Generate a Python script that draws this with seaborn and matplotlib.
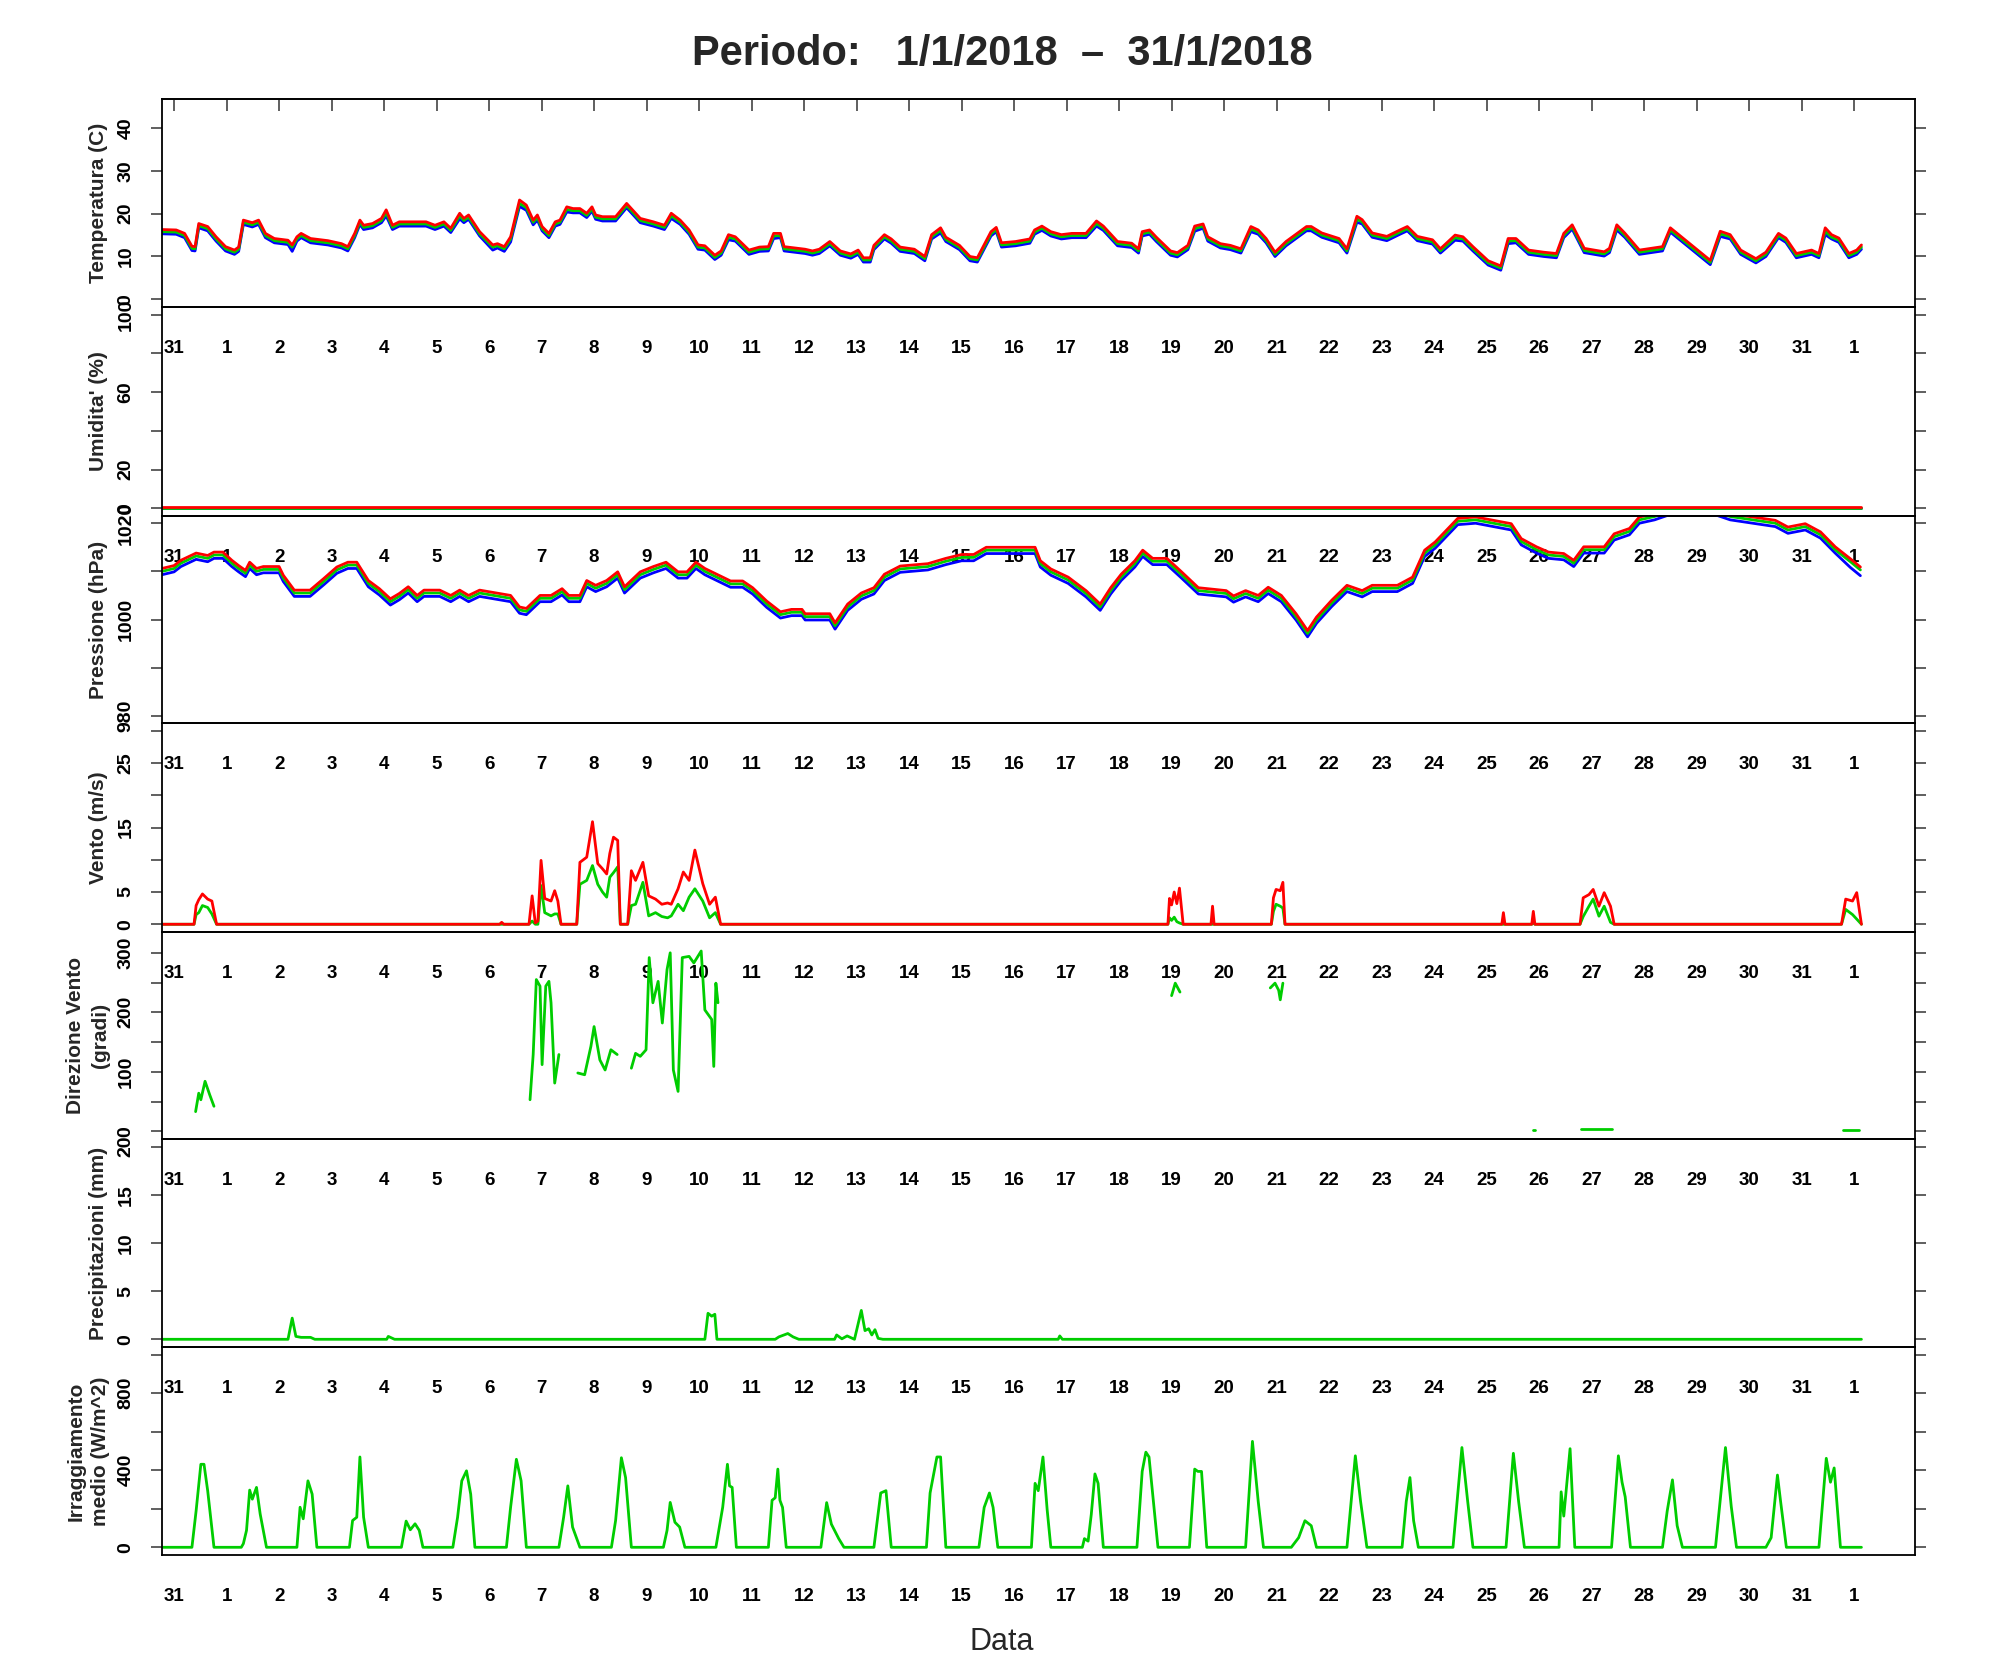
import numpy as np
import pandas as pd
import matplotlib
matplotlib.use("Agg")
import matplotlib.pyplot as plt
import seaborn as sns

sns.set_theme(style="white")
plt.rcParams['font.family'] = ['Liberation Sans', 'DejaVu Sans']

NAN = float('nan')

# x axis: day index, 0 = first "31" tick (Dec 31) ... 32 = "1" (Feb 1)
day_ticks = list(range(33))
day_labels = ['31'] + [str(d) for d in range(1, 32)] + ['1']

# ---- temperature (C): max (red), mean (green), min (blue)
temp_t = [-0.23, 0.04, 0.2, 0.34, 0.4, 0.47, 0.64, 0.8, 0.98, 1.15,
          1.23, 1.32, 1.49, 1.61, 1.74, 1.91, 2.17, 2.25, 2.34, 2.42,
          2.6, 2.93, 3.19, 3.31, 3.44, 3.54, 3.61, 3.78, 3.95, 4.04,
          4.16, 4.29, 4.63, 4.8, 4.97, 5.14, 5.27, 5.44, 5.52, 5.61,
          5.82, 6.07, 6.16, 6.29, 6.41, 6.58, 6.71, 6.84, 6.92, 7.01,
          7.14, 7.26, 7.35, 7.48, 7.6, 7.73, 7.86, 7.96, 8.03, 8.16,
          8.41, 8.62, 8.88, 9.13, 9.34, 9.47, 9.64, 9.81, 9.98, 10.11,
          10.3, 10.42, 10.56, 10.69, 10.95, 11.15, 11.32, 11.42, 11.55, 11.62,
          12.02, 12.16, 12.29, 12.49, 12.69, 12.89, 13.03, 13.13, 13.26, 13.33,
          13.53, 13.66, 13.83, 14.1, 14.3, 14.43, 14.6, 14.7, 14.96, 15.16,
          15.3, 15.56, 15.66, 15.76, 16.03, 16.3, 16.39, 16.53, 16.7, 16.9,
          17.1, 17.37, 17.57, 17.7, 17.97, 18.24, 18.37, 18.44, 18.58, 18.71,
          18.98, 19.11, 19.31, 19.44, 19.6, 19.69, 19.93, 20.12, 20.32, 20.51,
          20.65, 20.8, 20.97, 21.18, 21.57, 21.66, 21.86, 22.19, 22.34, 22.53,
          22.63, 22.82, 23.1, 23.35, 23.49, 23.68, 23.97, 24.12, 24.4, 24.55,
          24.74, 25.03, 25.27, 25.41, 25.56, 25.8, 26.09, 26.33, 26.47, 26.63,
          26.86, 27.24, 27.34, 27.48, 27.63, 27.91, 28.35, 28.5, 28.78, 29.02,
          29.26, 29.45, 29.64, 29.84, 30.13, 30.32, 30.56, 30.7, 30.9, 31.19,
          31.33, 31.45, 31.57, 31.71, 31.9, 32.05, 32.14]
temp_max = [16.3, 16.2, 15.4, 12.4, 12.3, 17.7, 17.0, 14.6, 12.3, 11.5,
            12.2, 18.5, 17.9, 18.5, 15.4, 14.2, 13.8, 12.7, 14.6, 15.4,
            14.2, 13.7, 13.0, 12.3, 15.4, 18.5, 17.3, 17.7, 18.9, 20.9,
            17.3, 18.1, 18.1, 18.1, 17.3, 18.1, 16.6, 20.1, 18.9, 19.7,
            15.8, 12.7, 13.0, 12.3, 14.6, 23.2, 22.0, 18.5, 19.7, 17.0,
            15.4, 18.1, 18.5, 21.6, 21.2, 21.2, 20.1, 21.6, 19.7, 19.3,
            19.3, 22.4, 18.9, 18.1, 17.3, 20.1, 18.5, 16.2, 12.7, 12.5,
            10.3, 11.3, 15.1, 14.6, 11.5, 12.2, 12.3, 15.4, 15.4, 12.3,
            11.7, 11.3, 11.7, 13.5, 11.3, 10.6, 11.5, 9.7, 9.7, 12.6,
            15.1, 14.1, 12.2, 11.7, 10.0, 15.1, 16.7, 14.5, 12.6, 10.0,
            9.7, 15.8, 16.8, 13.2, 13.5, 14.1, 16.2, 17.1, 15.8, 15.1,
            15.4, 15.4, 18.3, 17.1, 13.5, 13.1, 11.8, 15.8, 16.2, 14.5,
            11.3, 10.9, 12.6, 17.1, 17.6, 14.6, 13.0, 12.6, 11.8, 17.0,
            16.2, 14.2, 11.0, 13.5, 17.0, 17.0, 15.5, 14.2, 11.8, 19.4,
            18.6, 15.5, 14.7, 16.2, 17.0, 14.7, 13.9, 11.8, 15.0, 14.6,
            12.3, 9.0, 7.8, 14.2, 14.2, 11.5, 11.0, 10.7, 15.4, 17.4,
            11.9, 11.1, 11.9, 17.4, 15.5, 11.5, 12.3, 16.7, 13.9, 11.5,
            9.1, 15.9, 15.1, 11.5, 9.5, 11.0, 15.4, 14.3, 10.7, 11.5,
            10.7, 16.7, 15.1, 14.3, 10.7, 11.5, 12.7]
temp_med = [15.8, 15.7, 14.9, 11.9, 11.8, 17.2, 16.5, 14.1, 11.8, 11.0,
            11.7, 18.0, 17.4, 18.0, 14.9, 13.7, 13.3, 12.2, 14.1, 14.9,
            13.7, 13.2, 12.5, 11.8, 14.9, 18.0, 16.8, 17.2, 18.4, 20.2,
            16.8, 17.6, 17.6, 17.6, 16.8, 17.6, 16.1, 19.5, 18.4, 19.2,
            15.3, 12.2, 12.5, 11.8, 14.1, 22.4, 21.4, 18.0, 19.1, 16.5,
            14.9, 17.6, 18.0, 21.0, 20.7, 20.7, 19.6, 21.1, 19.2, 18.8,
            18.8, 21.9, 18.4, 17.6, 16.8, 19.5, 18.0, 15.7, 12.2, 12.0,
            9.8, 10.8, 14.5, 14.1, 11.0, 11.7, 11.8, 14.8, 14.9, 11.8,
            11.2, 10.8, 11.2, 13.0, 10.8, 10.1, 11.0, 9.2, 9.2, 12.1,
            14.6, 13.6, 11.7, 11.2, 9.5, 14.6, 16.1, 14.0, 12.1, 9.5,
            9.2, 15.3, 16.3, 12.7, 13.0, 13.6, 15.7, 16.6, 15.3, 14.6,
            14.9, 14.9, 17.7, 16.6, 13.0, 12.6, 11.3, 15.3, 15.7, 14.0,
            10.8, 10.4, 12.1, 16.5, 17.1, 14.1, 12.5, 12.1, 11.3, 16.4,
            15.7, 13.7, 10.5, 13.0, 16.5, 16.5, 15.0, 13.7, 11.3, 18.7,
            18.1, 15.0, 14.2, 15.7, 16.5, 14.2, 13.4, 11.3, 14.4, 14.1,
            11.8, 8.5, 7.3, 13.6, 13.7, 11.0, 10.5, 10.2, 14.9, 16.9,
            11.4, 10.6, 11.4, 16.8, 15.0, 11.0, 11.8, 16.2, 13.4, 11.0,
            8.6, 15.3, 14.6, 11.0, 9.0, 10.5, 14.9, 13.8, 10.2, 11.0,
            10.2, 15.9, 14.5, 13.8, 10.2, 11.0, 12.2]
temp_min = [15.3, 15.2, 14.4, 11.4, 11.3, 16.7, 16.0, 13.6, 11.3, 10.5,
            11.2, 17.5, 16.9, 17.5, 14.4, 13.2, 12.8, 11.2, 13.6, 14.4,
            13.2, 12.7, 12.0, 11.3, 14.4, 17.5, 16.3, 16.7, 17.9, 19.5,
            16.3, 17.1, 17.1, 17.1, 16.3, 17.1, 15.6, 18.8, 17.9, 18.7,
            14.8, 11.5, 12.0, 11.2, 13.4, 21.7, 20.8, 17.4, 18.5, 16.0,
            14.4, 17.1, 17.5, 20.4, 20.2, 20.2, 19.1, 20.6, 18.7, 18.3,
            18.3, 21.4, 17.9, 17.1, 16.3, 18.9, 17.5, 15.2, 11.7, 11.5,
            9.3, 10.3, 13.9, 13.6, 10.5, 11.2, 11.3, 14.2, 14.4, 11.3,
            10.7, 10.3, 10.7, 12.5, 10.3, 9.6, 10.5, 8.7, 8.7, 11.6,
            14.1, 13.1, 11.2, 10.7, 9.0, 14.1, 15.5, 13.5, 11.6, 9.0,
            8.7, 14.8, 15.8, 12.2, 12.5, 13.1, 15.2, 16.1, 14.8, 14.1,
            14.4, 14.4, 17.1, 16.1, 12.5, 12.1, 10.8, 14.8, 15.2, 13.5,
            10.3, 9.9, 11.6, 15.9, 16.6, 13.6, 12.0, 11.6, 10.8, 15.8,
            15.2, 13.2, 10.0, 12.5, 16.0, 16.0, 14.5, 13.2, 10.8, 18.0,
            17.6, 14.5, 13.7, 15.2, 16.0, 13.7, 12.9, 10.8, 13.8, 13.6,
            11.3, 8.0, 6.8, 13.0, 13.2, 10.5, 10.0, 9.7, 14.4, 16.4,
            10.9, 10.1, 10.9, 16.2, 14.5, 10.5, 11.3, 15.7, 12.9, 10.5,
            8.1, 14.7, 14.1, 10.5, 8.5, 10.0, 14.4, 13.3, 9.7, 10.5,
            9.7, 15.1, 14.1, 13.3, 9.7, 10.5, 11.7]

# ---- humidity (%): sensor reads zero for the whole period
hum_t = [-0.23, 32.14]
hum_max = [0.6, 0.6]
hum_med = [0.3, 0.3]
hum_min = [0.0, 0.0]

# ---- pressure (hPa)
press_t = [-0.23, 0.0, 0.13, 0.42, 0.64, 0.76, 0.93, 1.1, 1.23, 1.36,
           1.44, 1.57, 1.7, 2.0, 2.08, 2.29, 2.59, 2.85, 3.1, 3.31,
           3.48, 3.7, 3.91, 4.12, 4.29, 4.46, 4.63, 4.76, 5.06, 5.27,
           5.44, 5.61, 5.82, 6.41, 6.58, 6.71, 6.97, 7.18, 7.39, 7.52,
           7.73, 7.86, 8.03, 8.24, 8.45, 8.58, 8.88, 9.13, 9.37, 9.6,
           9.77, 9.94, 10.11, 10.41, 10.6, 10.83, 11.02, 11.29, 11.55, 11.76,
           11.96, 12.02, 12.49, 12.59, 12.83, 13.09, 13.33, 13.53, 13.83, 14.36,
           14.7, 15.0, 15.23, 15.47, 15.83, 16.1, 16.4, 16.5, 16.7, 17.03,
           17.37, 17.64, 17.84, 18.04, 18.3, 18.45, 18.64, 18.91, 19.18, 19.51,
           20.04, 20.18, 20.41, 20.65, 20.84, 21.09, 21.37, 21.59, 21.76, 22.05,
           22.34, 22.63, 22.82, 23.3, 23.59, 23.82, 24.02, 24.45, 24.79, 25.13,
           25.47, 25.66, 25.95, 26.18, 26.47, 26.66, 26.85, 27.24, 27.43, 27.72,
           27.91, 28.2, 28.6, 29.1, 29.64, 30.07, 30.5, 30.74, 31.07, 31.36,
           31.64, 31.93, 32.12]
press_max = [1010.6, 1011.2, 1012.3, 1013.8, 1013.3, 1014.0, 1014.0, 1012.3, 1011.2, 1010.2,
             1011.9, 1010.6, 1011.0, 1011.0, 1009.2, 1006.1, 1006.1, 1008.5, 1010.9, 1011.9,
             1011.9, 1008.1, 1006.4, 1004.3, 1005.4, 1006.8, 1005.0, 1006.1, 1006.1, 1005.0,
             1006.1, 1005.0, 1006.1, 1005.0, 1002.6, 1002.3, 1005.0, 1005.0, 1006.4, 1005.0,
             1005.0, 1008.1, 1007.1, 1008.1, 1009.9, 1006.8, 1009.9, 1011.0, 1011.9, 1009.9,
             1009.9, 1011.9, 1010.6, 1009.0, 1008.0, 1008.0, 1006.6, 1003.8, 1001.6, 1002.1,
             1002.1, 1001.2, 1001.2, 999.3, 1003.2, 1005.5, 1006.6, 1009.4, 1011.1, 1011.6,
             1012.7, 1013.5, 1013.5, 1015.0, 1015.0, 1015.0, 1015.0, 1012.2, 1010.5, 1008.8,
             1006.0, 1003.2, 1006.6, 1009.4, 1012.2, 1014.4, 1012.7, 1012.7, 1010.0, 1006.6,
             1006.0, 1004.9, 1006.0, 1005.0, 1006.7, 1005.0, 1001.2, 997.7, 1000.5, 1004.0,
             1007.1, 1006.0, 1007.1, 1007.1, 1008.8, 1014.4, 1016.1, 1021.0, 1021.3, 1020.6,
             1019.9, 1016.8, 1015.1, 1014.0, 1013.7, 1012.3, 1015.1, 1015.1, 1017.8, 1018.9,
             1021.3, 1022.0, 1023.5, 1024.0, 1022.0, 1021.3, 1020.6, 1019.2, 1019.9, 1018.2,
             1015.1, 1012.6, 1010.9]
press_med = [1010.0, 1010.6, 1011.7, 1013.2, 1012.7, 1013.4, 1013.4, 1011.7, 1010.6, 1009.6,
             1011.3, 1010.0, 1010.4, 1010.4, 1008.6, 1005.5, 1005.5, 1007.9, 1010.3, 1011.3,
             1011.3, 1007.5, 1005.8, 1003.7, 1004.8, 1006.2, 1004.4, 1005.5, 1005.5, 1004.4,
             1005.5, 1004.4, 1005.5, 1004.4, 1002.0, 1001.7, 1004.4, 1004.4, 1005.8, 1004.4,
             1004.4, 1007.5, 1006.5, 1007.5, 1009.3, 1006.2, 1009.3, 1010.4, 1011.3, 1009.3,
             1009.3, 1011.3, 1010.0, 1008.4, 1007.4, 1007.4, 1006.0, 1003.2, 1001.0, 1001.5,
             1001.5, 1000.6, 1000.6, 998.7, 1002.6, 1004.9, 1006.0, 1008.8, 1010.5, 1011.0,
             1012.1, 1012.9, 1012.9, 1014.4, 1014.4, 1014.4, 1014.4, 1011.6, 1009.9, 1008.2,
             1005.4, 1002.6, 1006.0, 1008.8, 1011.6, 1013.8, 1012.1, 1012.1, 1009.4, 1006.0,
             1005.4, 1004.3, 1005.4, 1004.4, 1006.1, 1004.4, 1000.6, 997.1, 999.9, 1003.4,
             1006.5, 1005.4, 1006.5, 1006.5, 1008.2, 1013.8, 1015.5, 1020.4, 1020.7, 1020.0,
             1019.3, 1016.2, 1014.5, 1013.4, 1013.1, 1011.7, 1014.5, 1014.5, 1017.2, 1018.3,
             1020.7, 1021.4, 1022.9, 1023.4, 1021.4, 1020.7, 1020.0, 1018.6, 1019.3, 1017.6,
             1014.5, 1012.0, 1010.3]
press_min = [1009.3, 1009.9, 1011.0, 1012.5, 1012.0, 1012.7, 1012.7, 1011.0, 1009.9, 1008.9,
             1010.6, 1009.3, 1009.7, 1009.7, 1007.9, 1004.8, 1004.8, 1007.2, 1009.6, 1010.6,
             1010.6, 1006.8, 1005.1, 1003.0, 1004.1, 1005.5, 1003.7, 1004.8, 1004.8, 1003.7,
             1004.8, 1003.7, 1004.8, 1003.7, 1001.3, 1001.0, 1003.7, 1003.7, 1005.1, 1003.7,
             1003.7, 1006.8, 1005.8, 1006.8, 1008.6, 1005.5, 1008.6, 1009.7, 1010.6, 1008.6,
             1008.6, 1010.6, 1009.3, 1007.7, 1006.7, 1006.7, 1005.3, 1002.5, 1000.3, 1000.8,
             1000.8, 999.9, 999.9, 998.0, 1001.9, 1004.2, 1005.3, 1008.1, 1009.8, 1010.3,
             1011.4, 1012.2, 1012.2, 1013.7, 1013.7, 1013.7, 1013.7, 1010.9, 1009.2, 1007.5,
             1004.7, 1001.9, 1005.3, 1008.1, 1010.9, 1013.1, 1011.4, 1011.4, 1008.7, 1005.3,
             1004.7, 1003.6, 1004.7, 1003.7, 1005.4, 1003.7, 999.9, 996.4, 999.2, 1002.7,
             1005.8, 1004.7, 1005.8, 1005.8, 1007.5, 1013.1, 1014.8, 1019.7, 1020.0, 1019.3,
             1018.6, 1015.5, 1013.8, 1012.7, 1012.4, 1011.0, 1013.8, 1013.8, 1016.5, 1017.6,
             1020.0, 1020.7, 1022.2, 1022.7, 1020.7, 1020.0, 1019.3, 1017.9, 1018.6, 1016.9,
             1013.8, 1010.8, 1009.1]

# ---- wind speed (m/s): gust (red), mean (green)
wind_t = [-0.23, 0.38, 0.42, 0.47, 0.54, 0.64, 0.72, 0.81, 6.20, 6.24,
          6.28, 6.76, 6.82, 6.88, 6.93, 6.99, 7.06, 7.18, 7.25, 7.31,
          7.37, 7.67, 7.73, 7.86, 7.97, 8.07, 8.16, 8.24, 8.30, 8.37,
          8.45, 8.50, 8.64, 8.71, 8.79, 8.93, 9.04, 9.17, 9.29, 9.40,
          9.47, 9.60, 9.70, 9.81, 9.92, 10.07, 10.20, 10.31, 10.41, 18.93,
          18.96, 19.00, 19.05, 19.10, 19.15, 19.22, 19.75, 19.78, 19.81, 20.90,
          20.94, 20.99, 21.07, 21.12, 21.16, 25.29, 25.32, 25.35, 25.86, 25.89,
          25.92, 26.78, 26.84, 26.95, 27.03, 27.14, 27.24, 27.36, 27.43, 31.76,
          31.84, 31.97, 32.05, 32.14]
wind_max = [0, 0, 2.9, 3.8, 4.7, 3.9, 3.6, 0, 0, 0.3,
            0, 0, 4.4, 0.2, 0.5, 9.9, 4.0, 3.6, 5.2, 3.6,
            0, 0, 9.6, 10.4, 15.9, 9.4, 8.6, 7.8, 11.0, 13.5,
            13.0, 0, 0, 8.3, 6.8, 9.6, 4.4, 3.9, 3.1, 3.3,
            3.1, 5.5, 8.1, 6.8, 11.5, 6.3, 3.1, 4.2, 0, 0,
            4.0, 3.0, 5.0, 3.2, 5.6, 0, 0, 2.8, 0, 0,
            4.1, 5.4, 5.2, 6.5, 0, 0, 1.8, 0, 0, 2.0,
            0, 0, 4.1, 4.6, 5.4, 2.8, 4.9, 2.8, 0, 0,
            3.9, 3.6, 4.9, 0]
wind_mean = [0, 0, 1.5, 1.8, 2.9, 2.6, 1.6, 0, 0, 0,
             0, 0, 0.5, 0, 0, 6.0, 1.8, 1.3, 1.6, 1.6,
             0, 0, 6.2, 6.8, 9.1, 6.2, 5.0, 4.2, 7.3, 8.0,
             8.9, 0, 0, 2.9, 3.1, 6.5, 1.3, 1.8, 1.2, 1.0,
             1.3, 3.1, 2.1, 4.2, 5.5, 3.6, 1.0, 1.8, 0, 0,
             1.0, 0.6, 1.1, 0.4, 0.2, 0, 0, 0, 0, 0,
             2.0, 3.1, 2.8, 2.5, 0, 0, 0, 0, 0, 0.2,
             0, 0, 1.2, 2.8, 3.9, 1.25, 2.8, 0.3, 0, 0,
             2.3, 1.5, 0.8, 0]

# ---- wind direction (degrees), gaps where there is no wind
dir_t = [0.41, 0.47, 0.51, 0.59, 0.68, 0.76, NAN,
         6.78, 6.84, 6.90, 6.97, 7.01, 7.08, 7.14, 7.18, 7.25, 7.33, NAN,
         7.69, 7.82, 7.94, 8.00, 8.11, 8.21, 8.32, 8.44, NAN,
         8.71, 8.79, 8.88, 8.99, 9.05, 9.12, 9.22, 9.30, 9.39, 9.45, 9.51,
         9.60, 9.68, 9.81, 9.90, 10.04, 10.11, 10.24, 10.28, 10.32, 10.36, NAN,
         19.00, 19.07, 19.16, NAN,
         20.88, 20.97, 21.04, 21.07, 21.12, NAN,
         25.89, 25.92, NAN,
         26.80, 27.38, NAN,
         31.78, 32.10]
dir_v = [33, 64, 53, 84, 61, 42, NAN,
         53, 129, 255, 244, 112, 244, 252, 216, 81, 129, NAN,
         98, 95, 143, 176, 120, 103, 137, 129, NAN,
         106, 131, 126, 137, 292, 216, 252, 182, 272, 300, 103,
         67, 292, 294, 283, 303, 204, 188, 109, 249, 216, NAN,
         228, 249, 234, NAN,
         241, 249, 237, 221, 249, NAN,
         2, 2, NAN,
         3, 3, NAN,
         2, 2]

# ---- precipitation (mm)
prec_t = [-0.23, 2.17, 2.25, 2.32, 2.42, 2.60, 2.68, 4.05, 4.08, 4.20,
          10.11, 10.17, 10.24, 10.30, 10.34, 11.45, 11.52, 11.69, 11.79, 11.90,
          12.58, 12.62, 12.72, 12.82, 12.96, 13.09, 13.16, 13.23, 13.29, 13.35,
          13.41, 13.50, 16.84, 16.87, 16.92, 32.14]
prec_v = [0, 0, 2.2, 0.3, 0.2, 0.2, 0, 0, 0.3, 0,
          0, 2.7, 2.4, 2.6, 0, 0, 0.25, 0.6, 0.25, 0,
          0, 0.45, 0.05, 0.35, 0, 3.0, 0.9, 1.1, 0.45, 1.0,
          0.1, 0, 0, 0.35, 0, 0]

# ---- mean irradiance (W/m^2), one row per day
irr_t = [-0.23,
         0.34, 0.42, 0.51, 0.57, 0.64, 0.76,
         1.28, 1.32, 1.38, 1.44, 1.49, 1.57, 1.64, 1.76,
         2.34, 2.40, 2.46, 2.55, 2.63, 2.72,
         3.34, 3.40, 3.48, 3.54, 3.61, 3.70,
         4.33, 4.42, 4.50, 4.59, 4.67, 4.74,
         5.31, 5.40, 5.48, 5.57, 5.65, 5.73,
         6.33, 6.41, 6.52, 6.61, 6.71,
         7.33, 7.42, 7.50, 7.59, 7.73,
         8.33, 8.41, 8.52, 8.60, 8.71,
         9.32, 9.39, 9.45, 9.54, 9.63, 9.73,
         10.32, 10.45, 10.54, 10.58, 10.63, 10.71,
         11.32, 11.39, 11.45, 11.50, 11.54, 11.59, 11.66,
         12.32, 12.43, 12.52, 12.66, 12.76,
         13.33, 13.46, 13.56, 13.66,
         14.33, 14.40, 14.53, 14.60, 14.70,
         15.33, 15.43, 15.53, 15.60, 15.69,
         16.33, 16.40, 16.46, 16.55, 16.63, 16.70,
         17.30, 17.34, 17.41, 17.47, 17.54, 17.60, 17.70,
         18.34, 18.44, 18.51, 18.57, 18.74,
         19.34, 19.44, 19.50, 19.57, 19.67,
         20.41, 20.54, 20.65, 20.75,
         21.28, 21.42, 21.54, 21.66, 21.76,
         22.34, 22.50, 22.60, 22.72,
         23.39, 23.47, 23.54, 23.61, 23.70,
         24.36, 24.53, 24.64, 24.74,
         25.37, 25.51, 25.61, 25.72,
         26.38, 26.42, 26.47, 26.59, 26.68,
         27.38, 27.51, 27.58, 27.64, 27.74,
         28.35, 28.44, 28.54, 28.63, 28.73,
         29.36, 29.55, 29.66, 29.76,
         30.32, 30.42, 30.54, 30.60, 30.71,
         31.33, 31.47, 31.55, 31.62, 31.74, 32.14]
irr_v = [0,
         0, 190, 431, 431, 294, 0,
         0, 19, 88, 297, 250, 311, 173, 0,
         0, 208, 148, 345, 276, 0,
         0, 139, 156, 469, 156, 0,
         0, 136, 91, 122, 88, 0,
         0, 156, 345, 397, 276, 0,
         0, 208, 457, 345, 0,
         0, 156, 319, 105, 0,
         0, 139, 465, 362, 0,
         0, 88, 233, 130, 105, 0,
         0, 208, 431, 319, 311, 0,
         0, 244, 257, 406, 244, 207, 0,
         0, 232, 120, 45, 0,
         0, 282, 294, 0,
         0, 282, 469, 469, 0,
         0, 207, 282, 207, 0,
         0, 332, 294, 469, 195, 0,
         0, 45, 32, 170, 381, 332, 0,
         0, 394, 494, 469, 0,
         0, 406, 394, 394, 0,
         0, 550, 238, 0,
         0, 50, 138, 112, 0,
         0, 475, 238, 0,
         0, 238, 362, 138, 0,
         0, 518, 238, 0,
         0, 488, 238, 0,
         0, 288, 162, 512, 0,
         0, 475, 338, 262, 0,
         0, 188, 350, 112, 0,
         0, 518, 212, 0,
         0, 50, 375, 238, 0,
         0, 462, 338, 412, 0, 0]

RED, GREEN, BLUE = '#FF0000', '#00CD00', '#0000FF'
TICK_COL = '#444444'

panels = [
    dict(label='Temperatura (C)', ylim=(-1.8, 46.8),
         yticks=[0, 10, 20, 30, 40], ylabels=['0', '10', '20', '30', '40'],
         lines=[(temp_t, temp_min, BLUE), (temp_t, temp_med, GREEN), (temp_t, temp_max, RED)]),
    dict(label="Umidita' (%)", ylim=(-4, 104),
         yticks=[0, 20, 40, 60, 80, 100], ylabels=['0', '20', '', '60', '', '100'],
         lines=[(hum_t, hum_min, BLUE), (hum_t, hum_med, GREEN), (hum_t, hum_max, RED)]),
    dict(label='Pressione (hPa)', ylim=(978.5, 1021.5),
         yticks=[980, 990, 1000, 1010, 1020], ylabels=['980', '', '1000', '', '1020'],
         lines=[(press_t, press_min, BLUE), (press_t, press_med, GREEN), (press_t, press_max, RED)]),
    dict(label='Vento (m/s)', ylim=(-1.2, 31.2),
         yticks=[0, 5, 10, 15, 20, 25, 30], ylabels=['0', '5', '', '15', '', '25', ''],
         lines=[(wind_t, wind_mean, GREEN), (wind_t, wind_max, RED)]),
    dict(label='Direzione Vento\n(gradi)', ylim=(-13, 335),
         yticks=[0, 50, 100, 150, 200, 250, 300],
         ylabels=['0', '', '100', '', '200', '', '300'],
         lines=[]),
    dict(label='Precipitazioni (mm)', ylim=(-0.8, 20.8),
         yticks=[0, 5, 10, 15, 20], ylabels=['0', '5', '10', '15', '20'],
         lines=[(prec_t, prec_v, GREEN)]),
    dict(label='Irraggiamento\nmedio (W/m^2)', ylim=(-40, 1040),
         yticks=[0, 200, 400, 600, 800, 1000], ylabels=['0', '', '400', '', '800', ''],
         lines=[(irr_t, irr_v, GREEN)]),
]

# layout in pixels of the 1991x1680 canvas
FIG_W, FIG_H = 1991, 1680
LEFT, RIGHT = 162, 1915
EDGES = [99, 307, 516, 723, 932, 1139, 1347, 1555]
XLIM = (-0.23, 33.16)
PT = 0.72  # points per pixel at dpi 100

fig = plt.figure(figsize=(FIG_W / 100, FIG_H / 100), dpi=100)
fig.patch.set_facecolor('white')

for i, p in enumerate(panels):
    top, bot = EDGES[i], EDGES[i + 1]
    ax = fig.add_axes([LEFT / FIG_W, 1 - bot / FIG_H,
                       (RIGHT - LEFT) / FIG_W, (bot - top) / FIG_H])
    ax.set_facecolor('none')

    for t, v, col in p['lines']:
        assert len(t) == len(v)
        sns.lineplot(x=t, y=v, ax=ax, color=col, linewidth=2,
                     estimator=None, sort=False, legend=False)

    if i == 4:
        df = pd.DataFrame({'t': dir_t, 'v': dir_v})
        df['seg'] = df['v'].isna().cumsum()
        df = df.dropna()
        sns.lineplot(data=df, x='t', y='v', units='seg', estimator=None,
                     sort=False, color=GREEN, linewidth=2, ax=ax, legend=False)

    ax.set_xlim(*XLIM)
    ax.set_ylim(*p['ylim'])
    ax.set_xlabel('')
    ax.set_ylabel('')
    ax.grid(False)

    ax.set_xticks(day_ticks)
    ax.set_xticklabels(day_labels, fontweight='bold', fontsize=13.5)
    last = i == len(panels) - 1
    ax.tick_params(axis='x', direction='out' if last else 'inout',
                   length=(12 if last else 24) * PT, width=1.2, color=TICK_COL,
                   pad=15, labelcolor='black')

    ax.set_yticks(p['yticks'])
    ax.set_yticklabels(p['ylabels'], rotation=90, va='center',
                       fontweight='bold', fontsize=14)
    ax.tick_params(axis='y', left=True, right=True, labelright=False,
                   direction='out', length=11 * PT, width=1.2, color=TICK_COL,
                   pad=12, labelcolor='black')

    for s in ax.spines.values():
        s.set_visible(True)
        s.set_color('black')
        s.set_linewidth(1.3)

    if i == 0:
        sec = ax.secondary_xaxis('top')
        sec.set_xticks(day_ticks)
        sec.set_xticklabels([])
        sec.tick_params(axis='x', direction='in', length=12 * PT,
                        width=1.2, color=TICK_COL)
        sec.spines['top'].set_linewidth(1.3)

    # panel label, centred on the panel height
    xlab = 88 if '\n' in p['label'] else 99
    fig.text(xlab / FIG_W, 1 - (top + bot) / 2 / FIG_H, p['label'],
             rotation=90, ha='center', va='center', fontsize=15,
             fontweight='bold', linespacing=1.35, multialignment='center')

fig.text(1002 / FIG_W, 1 - 54 / FIG_H,
         'Periodo:   1/1/2018  \u2013  31/1/2018',
         ha='center', va='center', fontsize=30, fontweight='bold')
fig.text(1002 / FIG_W, 1 - 1642 / FIG_H, 'Data',
         ha='center', va='center', fontsize=22)

fig.savefig('out.png', dpi=100, facecolor='white')
